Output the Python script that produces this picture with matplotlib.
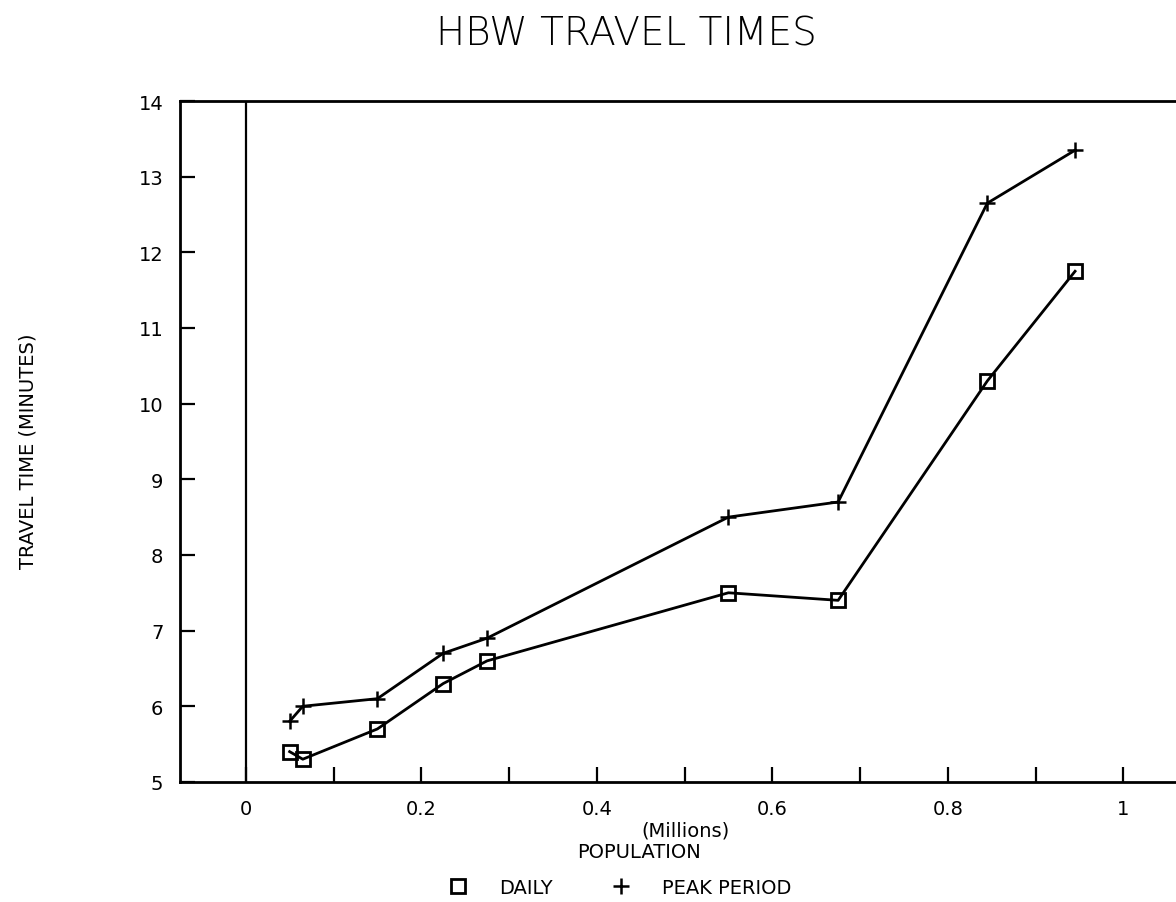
import matplotlib
matplotlib.use("Agg")
import matplotlib.pyplot as plt
from matplotlib.lines import Line2D

# values
population = [0.05, 0.065, 0.15, 0.225, 0.275, 0.55, 0.675, 0.845, 0.945]  # millions
daily = [5.4, 5.3, 5.7, 6.3, 6.6, 7.5, 7.4, 10.3, 11.75]
peak = [5.8, 6.0, 6.1, 6.7, 6.9, 8.5, 8.7, 12.65, 13.35]

x_labels = [0, 0.2, 0.4, 0.6, 0.8, 1]
x_minor = [0.1, 0.3, 0.5, 0.7, 0.9]
y_ticks = list(range(5, 15))

plt.rcParams['font.family'] = ['DejaVu Sans']

fig = plt.figure(figsize=(11.76, 9.03), dpi=100)
ax = fig.add_axes([0.153, 0.133, 0.847, 0.754])

ax.plot(population, daily, color="black", lw=2, marker="s", ms=10,
        mfc="none", mec="black", mew=2)
ax.plot(population, peak, color="black", lw=2, marker="+", ms=12, mew=1.8)
ax.axvline(0, color="black", lw=1.6)

ax.set_xlim(-0.075, 1.06)
ax.set_ylim(5, 14)
ax.spines["right"].set_visible(False)
for s in ["left", "bottom", "top"]:
    ax.spines[s].set_linewidth(2)

ax.set_xticks(x_labels)
ax.set_xticklabels(["0", "0.2", "0.4", "0.6", "0.8", "1"])
ax.set_xticks(x_minor, minor=True)
ax.tick_params(axis="x", which="both", direction="in", length=11, width=1.6,
               pad=12, labelsize=14)
ax.set_yticks(y_ticks)
ax.tick_params(axis="y", direction="in", length=11, width=1.6, pad=12,
               labelsize=14)

fig.text(0.533, 0.962, "HBW TRAVEL TIMES", ha="center", va="center",
         fontsize=28, fontweight=200)
fig.text(0.024, 0.5, "TRAVEL TIME (MINUTES)", rotation=90, ha="center",
         va="center", fontsize=14)
fig.text(0.583, 0.08, "(Millions)", ha="center", va="center", fontsize=14)
fig.text(0.543, 0.056, "POPULATION", ha="center", va="center", fontsize=14)

handles = [
    Line2D([], [], ls="none", marker="s", ms=10, mfc="none", mec="black", mew=2),
    Line2D([], [], ls="none", marker="+", ms=12, mec="black", mew=1.8),
]
fig.legend(handles, ["DAILY", "PEAK PERIOD"], loc="center",
           bbox_to_anchor=(0.527, 0.016), ncol=2, frameon=False, fontsize=14,
           handlelength=1, handletextpad=1.6, columnspacing=3.0, numpoints=1)

fig.savefig("out.png", dpi=100)
